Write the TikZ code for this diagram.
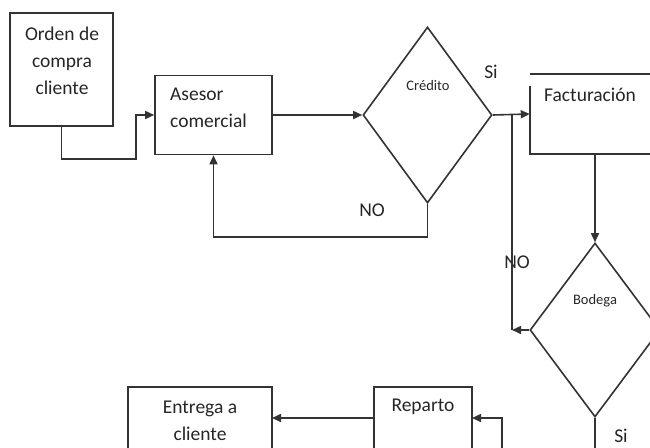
\documentclass[tikz,border=0pt]{standalone}
\usepackage{fontspec}
\setmainfont{Carlito}
\usetikzlibrary{arrows.meta,shapes.geometric,calc}

\begin{document}
\begin{tikzpicture}[x=1pt,y=-1pt,
  line/.style={draw=black!80,line width=1.6pt},
  arr/.style={line,-{Triangle[length=9pt,width=8pt]}},
  box/.style={line,rectangle,inner sep=0pt},
  decision/.style={line,diamond,inner sep=0pt},
  txt/.style={text=black!85,font=\fontsize{19.5}{27}\selectfont,inner sep=0pt},
  small/.style={text=black!85,font=\fontsize{14.5}{17}\selectfont,inner sep=0pt}]
\useasboundingbox (0,0) rectangle (650,447);
\clip (0,0) rectangle (650,447);

% boxes and decisions
\node[box,minimum width=103pt,minimum height=113pt] (orden) at (61.5,69.5) {};
\node[box,minimum width=117pt,minimum height=79pt] (asesor) at (213.5,115) {};
\node[decision,minimum width=129pt,minimum height=176pt] (credito) at (427.5,115) {};
\node[rectangle,inner sep=0pt,minimum width=140pt,minimum height=80pt] (fact) at (600,114) {};
\node[decision,minimum width=130pt,minimum height=174pt] (bodega) at (595,330) {};
\node[box,minimum width=98pt,minimum height=80pt] (reparto) at (423,427) {};
\node[box,minimum width=144pt,minimum height=80pt] (entrega) at (200,427) {};

% Facturación outline (left edge starts a little below the top line)
\draw[line] (fact.north west) -- (fact.north east) (fact.south east) -- (fact.south west) -- ($(fact.north west)+(0,12)$);

% texts
\node[txt,align=center] (tOrden) at (62,61) {Orden de\\compra\\cliente};
\node[txt,align=left,anchor=west] (tAsesor) at (170,108) {Asesor\\comercial};
\node[small] (tCredito) at (428,86) {Crédito};
\node[txt,anchor=west] (tFact) at (544,95) {Facturación};
\node[small] (tBodega) at (595,301) {Bodega};
\node[txt] (tReparto) at (423,407) {Reparto};
\node[txt,align=center] (tEntrega) at (200,421) {Entrega a\\cliente};

% branch labels
\node[txt] (si1) at (491,72) {Si};
\node[txt] (no1) at (372,210) {NO};
\node[txt] (no2) at (517,262) {NO};
\node[txt] (si2) at (621,436) {Si};

% helper points
\coordinate (k1) at (61.5,159);
\coordinate (k2) at (136,159);
\coordinate (k3) at (136,115);
\coordinate (j1) at (512,115);
\coordinate (j2) at (512,330);
\coordinate (b1) at (595,460);
\coordinate (r1) at (502,460);
\coordinate (r2) at (502,418);
\coordinate (rin) at (472,418);
\coordinate (rout) at (374,418);
\coordinate (ein) at (272,418);

% connectors
\draw[arr] (orden.south) -- (k1) -- (k2) -- (k3) -- (asesor.west);
\draw[arr] (asesor.east) -- (credito.west);
\draw[arr] (credito.east) -- (fact.west);
\draw[arr] (credito.south) -- ++(0,33) -| (asesor.south);
\draw[arr] (fact.south -| bodega.north) -- (bodega.north);
\draw[arr] (bodega.west) -- (j2);
\draw[line] (j2) -- (j1);
\draw[line] (bodega.south) -- (b1);
\draw[arr] (r1) -- (r2) -- (rin);
\draw[arr] (rout) -- (ein);
\end{tikzpicture}
\end{document}
